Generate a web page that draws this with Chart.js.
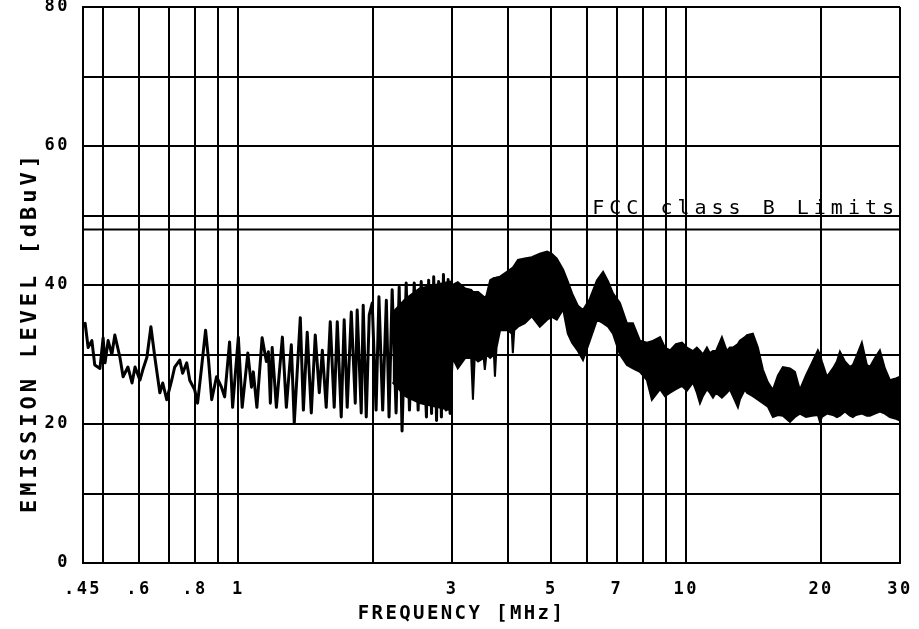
<!DOCTYPE html>
<html>
<head>
<meta charset="utf-8">
<script src="https://cdn.jsdelivr.net/npm/chart.js@4.4.1/dist/chart.umd.min.js"></script>
<style>
  body { margin: 0; background: #fff; }
  canvas { display: block; }
</style>
</head>
<body>
<canvas id="emissionChart" width="919" height="629"></canvas>
<script>
// scan trace, 0.45 - 3 MHz (single peaks can still be told apart here)
var traceFreq = [0.450, 0.455, 0.462, 0.471, 0.478, 0.491, 0.499, 0.504, 0.512, 0.522, 0.530, 0.544, 0.553, 0.567, 0.579, 0.588, 0.603, 0.612, 0.625, 0.638,
  0.651, 0.668, 0.678, 0.692, 0.710, 0.721, 0.740, 0.751, 0.767, 0.779, 0.799, 0.811, 0.828, 0.845, 0.858, 0.872, 0.894, 0.917, 0.932, 0.956,
  0.971, 1.00, 1.02, 1.05, 1.07, 1.08, 1.10, 1.13, 1.155, 1.167, 1.179, 1.19, 1.216, 1.254, 1.28, 1.313, 1.333, 1.375, 1.397, 1.425,
  1.455, 1.485, 1.516, 1.540, 1.571, 1.604, 1.637, 1.663, 1.697, 1.723, 1.750, 1.787, 1.824, 1.842, 1.881, 1.900, 1.930, 1.960, 1.99, 2.03,
  2.06, 2.10, 2.14, 2.17, 2.205, 2.25, 2.286, 2.32, 2.37, 2.41, 2.47, 2.52, 2.56, 2.63, 2.66, 2.70, 2.73, 2.77, 2.80, 2.84,
  2.87, 2.91, 2.94, 2.97, 3.00];
var traceLevel = [34, 34.5, 31, 32, 28.5, 28, 32.4, 28.8, 32, 30, 32.8, 29.6, 26.8, 28.2, 25.9, 28.2, 26.3, 27.8, 29.6, 34,
  29.6, 24.5, 25.9, 23.5, 26.3, 28.2, 29.2, 27.3, 28.8, 26.3, 24.9, 23, 28.2, 33.5, 29.2, 23.5, 26.8, 25.3, 23.9, 31.8,
  22.4, 32.5, 22.4, 30.2, 25.3, 27.5, 22.4, 32.4, 29, 30.4, 23, 31, 22.4, 32.5, 22.4, 31.4, 20.1, 35.3, 22, 33.2,
  21.6, 32.8, 24.5, 30.6, 22.4, 34.7, 22.4, 34.7, 21, 35, 22.4, 36.1, 23, 36.4, 21.6, 37.1, 21, 35.7, 37.4, 22,
  38.3, 22, 37.8, 21, 39.3, 21.6, 39.7, 19, 40.3, 22, 40.3, 22, 40.5, 21, 40.7, 21.5, 41.2, 20.5, 40.5, 21,
  41.5, 22, 40.8, 21.5, 40];

// dense part of the scan, 2.2 - 30 MHz: top and bottom of the black band
var bandFreq = [2.21, 2.36, 2.54, 2.75, 2.97, 3.01, 3.09, 3.21, 3.31, 3.34, 3.37, 3.43, 3.53, 3.55, 3.58, 3.65, 3.72, 3.74, 3.77, 3.84,
  4.00, 4.08, 4.10, 4.13, 4.21, 4.36, 4.52, 4.71, 4.89, 5.01, 5.14, 5.31, 5.44, 5.56, 5.73, 5.88, 6.09, 6.32, 6.52, 6.69,
  6.86, 7.11, 7.37, 7.60, 7.88, 8.17, 8.38, 8.74, 8.96, 9.20, 9.48, 9.78, 10.03, 10.35, 10.56, 10.73, 10.89, 11.12, 11.29, 11.47,
  11.65, 12.01, 12.32, 12.51, 12.71, 13.04, 13.17, 13.52, 13.66, 14.08, 14.45, 14.83, 15.21, 15.61, 16.02, 16.43, 17.04, 17.48, 17.93, 18.50,
  19.08, 19.67, 19.88, 20.08, 20.60, 21.25, 21.69, 22.03, 22.60, 23.19, 23.55, 23.91, 24.66, 25.30, 25.70, 26.37, 27.05, 27.76, 28.48, 29.22,
  30.0];
var bandUpper = [36, 38, 39.5, 40, 40.5, 40, 40.4, 39.5, 39.3, 39, 39, 39, 38.3, 38.1, 38.5, 40.7, 41, 41, 41.1, 41.2,
  42, 42.4, 42.5, 42.8, 43.6, 43.8, 44, 44.5, 44.8, 44.5, 43.8, 42.2, 40.5, 38.8, 37, 36.4, 38, 40.7, 41.9, 40.5,
  38.8, 37.4, 34.5, 34.5, 32, 31.7, 31.9, 32.5, 31, 30.6, 31.5, 31.7, 31, 30.5, 31, 30.5, 30, 31, 30.2, 30.5,
  30.5, 32.5, 30.5, 31, 31, 31.5, 32, 32.5, 32.8, 33, 31, 27.8, 26, 24.9, 27, 28.2, 28, 27.5, 24.9, 27,
  28.8, 30.6, 30, 29, 26.8, 28, 29, 30.4, 29, 28.2, 28.5, 29.5, 31.7, 28.5, 28.2, 29.5, 30.6, 28, 26.3, 26.5,
  26.8];
var bandLower = [26, 24, 23, 22.5, 22, 29.5, 28, 29.5, 29.5, 23.5, 29.5, 29, 29.5, 27.8, 30, 29.5, 30, 26.8, 31, 33.5,
  33.5, 33, 30.2, 33.5, 34, 34.5, 35.5, 34, 35, 35.4, 35, 36.5, 33, 31.7, 30.5, 29.2, 32, 35, 34.5, 34,
  33, 30, 28.5, 28, 27.5, 26.3, 23.5, 25, 24, 24.5, 25, 25.5, 24.8, 26, 24.5, 23, 24, 25, 24.5, 23.8,
  24.5, 23.8, 24.5, 25, 24, 22.4, 23.5, 25, 24.5, 24, 23.5, 23, 22.5, 21, 21.3, 21.2, 20.3, 21, 21.5, 21,
  21.2, 21.3, 20.3, 21, 21.5, 21.3, 21, 21.2, 21.8, 21.2, 21, 21.3, 21.5, 21.2, 21.2, 21.5, 21.8, 21.5, 21, 20.8,
  20.5];

// FCC class B limit
var limitFreq = [0.45, 30];
var limitLevel = [48, 48];

// axes
var gridFreqs = [0.45, 0.5, 0.6, 0.7, 0.8, 0.9, 1, 2, 3, 4, 5, 6, 7, 8, 9, 10, 20, 30];
var labelFreqs = [0.45, 0.6, 0.8, 1, 3, 5, 7, 10, 20, 30];
var labelTexts = ['.45', '.6', '.8', '1', '3', '5', '7', '10', '20', '30'];
var levelLabels = [0, 20, 40, 60, 80];

var monoFont = "'DejaVu Sans Mono', 'Liberation Mono', monospace";

function toPoints(xs, ys)
{
  return xs.map(function (x, i) { return { x: x, y: ys[i] }; });
}

function spacedText(ctx, text, x, y, size, weight, spacing)
{
  ctx.save();
  ctx.font = weight + ' ' + size + 'px ' + monoFont;
  ctx.letterSpacing = spacing + 'px';
  ctx.fillStyle = '#000';
  ctx.textBaseline = 'middle';
  ctx.textAlign = 'center';
  ctx.fillText(text, x, y);
  ctx.restore();
}

// plotter style lettering: wide spaced monospace
var plotterText = {
  id: 'plotterText',
  beforeDraw: function (chart)
  {
    chart.ctx.letterSpacing = '2.5px';
  },
  afterDraw: function (chart)
  {
    var ctx = chart.ctx;
    var area = chart.chartArea;
    var yScale = chart.scales.y;

    ctx.save();
    ctx.font = 'normal 20px ' + monoFont;
    ctx.letterSpacing = '5px';
    ctx.fillStyle = '#000';
    ctx.textAlign = 'right';
    ctx.textBaseline = 'alphabetic';
    ctx.fillText('FCC class B Limits', area.right - 1, yScale.getPixelForValue(50) - 2);
    ctx.restore();

    spacedText(ctx, 'FREQUENCY [MHz]', (area.left + area.right) / 2 - 30, 614, 19, 'bold', 2.4);

    ctx.save();
    ctx.translate(30, 332);
    ctx.rotate(-Math.PI / 2);
    spacedText(ctx, 'EMISSION LEVEL [dBuV]', 0, 0, 22, 'bold', 4);
    ctx.restore();
  }
};

var ctx = document.getElementById('emissionChart');

var emissionChart = new Chart(ctx, {
  type: 'line',
  data: {
    datasets: [
      {
        label: 'limit',
        data: toPoints(limitFreq, limitLevel),
        borderColor: '#000',
        borderWidth: 2,
        pointRadius: 0,
        fill: false
      },
      {
        label: 'trace',
        data: toPoints(traceFreq, traceLevel),
        borderColor: '#000',
        borderWidth: 3,
        borderJoinStyle: 'round',
        pointRadius: 0,
        tension: 0,
        fill: false
      },
      {
        label: 'band low',
        data: toPoints(bandFreq, bandLower),
        borderColor: '#000',
        borderWidth: 2,
        pointRadius: 0,
        fill: false
      },
      {
        label: 'band high',
        data: toPoints(bandFreq, bandUpper),
        borderColor: '#000',
        borderWidth: 2,
        backgroundColor: '#000',
        pointRadius: 0,
        fill: '-1'
      }
    ]
  },
  options: {
    responsive: false,
    animation: false,
    events: [],
    layout: { padding: { top: 7, right: 19, left: 0, bottom: 0 } },
    plugins: {
      legend: { display: false },
      tooltip: { enabled: false }
    },
    scales: {
      x: {
        type: 'logarithmic',
        min: 0.45,
        max: 30,
        afterBuildTicks: function (scale)
        {
          scale.ticks = gridFreqs.map(function (v) { return { value: v }; });
        },
        afterFit: function (scale)
        {
          scale.height = 66;
          scale.paddingLeft = 0;
          scale.paddingRight = 0;
        },
        ticks: {
          autoSkip: false,
          maxRotation: 0,
          padding: 16,
          color: '#000',
          font: { family: monoFont, size: 17, weight: 'bold' },
          callback: function (value)
          {
            var i = labelFreqs.indexOf(Number(value));
            return i >= 0 ? labelTexts[i] : '';
          }
        },
        grid: { color: '#000', lineWidth: 2, drawTicks: false },
        border: { color: '#000', width: 2 }
      },
      y: {
        min: 0,
        max: 80,
        afterFit: function (scale)
        {
          scale.width = 83;
          scale.paddingTop = 0;
          scale.paddingBottom = 0;
        },
        ticks: {
          stepSize: 10,
          autoSkip: false,
          padding: 13,
          color: '#000',
          font: { family: monoFont, size: 17, weight: 'bold' },
          callback: function (value)
          {
            return levelLabels.indexOf(value) >= 0 ? String(value) : '';
          }
        },
        grid: { color: '#000', lineWidth: 2, drawTicks: false },
        border: { color: '#000', width: 2 }
      }
    }
  },
  plugins: [plotterText]
});
</script>
</body>
</html>
